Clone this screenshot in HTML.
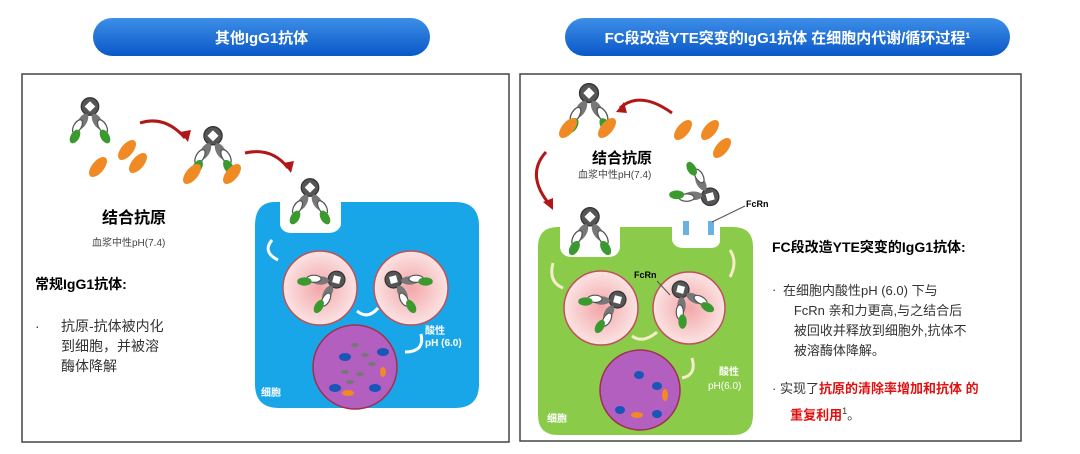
<!DOCTYPE html>
<html><head><meta charset="utf-8"><style>
body{margin:0;width:1080px;height:454px;background:#fff;overflow:hidden;font-family:"Liberation Sans","Noto Sans CJK SC",sans-serif;}
.t{position:absolute;}
</style></head><body>
<svg width="1080" height="454" style="position:absolute;left:0;top:0">
<defs>
<linearGradient id="pill" x1="0" y1="0" x2="0" y2="1"><stop offset="0" stop-color="#3d8ee8"/><stop offset="1" stop-color="#0a58c8"/></linearGradient>
<radialGradient id="pink"><stop offset="0" stop-color="#f3a6a8"/><stop offset="1" stop-color="#fbe3e3"/></radialGradient>
<g id="ab">
<circle cx="0" cy="-14" r="7" fill="#555" stroke="#333"/>
<rect x="-3" y="-17" width="6" height="6" fill="#fff" transform="rotate(45 0 -14)"/>
<ellipse cx="-6" cy="-2" rx="3.5" ry="7" fill="#777" transform="rotate(30 -6 -2)"/>
<ellipse cx="6" cy="-2" rx="3.5" ry="7" fill="#777" transform="rotate(-30 6 -2)"/>
<ellipse cx="-10" cy="2" rx="3" ry="6" fill="#fff" stroke="#555" transform="rotate(30 -10 2)"/>
<ellipse cx="10" cy="2" rx="3" ry="6" fill="#fff" stroke="#555" transform="rotate(-30 10 2)"/>
<ellipse cx="-12" cy="10" rx="3.5" ry="6" fill="#3a9a30" transform="rotate(30 -12 10)"/>
<ellipse cx="12" cy="10" rx="3.5" ry="6" fill="#3a9a30" transform="rotate(-30 12 10)"/>
</g>
<g id="ag"><ellipse cx="0" cy="0" rx="6" ry="12" fill="#f08a24" transform="rotate(40)"/></g>
</defs>
<rect x="93" y="18" width="337" height="38" rx="19" fill="url(#pill)"/>
<rect x="565" y="18" width="445" height="38" rx="19" fill="url(#pill)"/>
<rect x="22" y="74" width="487" height="368" fill="none" stroke="#444" stroke-width="1.5"/>
<rect x="520" y="74" width="501" height="367" fill="none" stroke="#444" stroke-width="1.5"/>
<!-- left cell -->
<path d="M275 202 L280 202 L280 225 Q282 233 292 233 L328 233 Q338 233 341 225 L341 202 L455 202 Q479 202 479 226 L479 384 Q479 408 455 408 L279 408 Q255 408 255 384 L255 226 Q255 202 275 202Z" fill="#19a6e8"/>
<circle cx="320" cy="288" r="37" fill="url(#pink)" stroke="#c0505a" stroke-width="1.5"/>
<circle cx="411" cy="288" r="37" fill="url(#pink)" stroke="#c0505a" stroke-width="1.5"/>
<circle cx="355" cy="367" r="42" fill="#b35fc0" stroke="#a03050" stroke-width="1.5"/>
<g fill="#1a55b8"><ellipse cx="345" cy="357" rx="6" ry="4"/><ellipse cx="383" cy="352" rx="6" ry="4"/><ellipse cx="335" cy="388" rx="6" ry="4"/><ellipse cx="375" cy="388" rx="6" ry="4"/></g>
<g fill="#777"><ellipse cx="355" cy="345" rx="4" ry="2"/><ellipse cx="365" cy="355" rx="4" ry="2"/><ellipse cx="345" cy="372" rx="4" ry="2"/><ellipse cx="360" cy="374" rx="4" ry="2"/><ellipse cx="372" cy="364" rx="4" ry="2"/><ellipse cx="350" cy="382" rx="4" ry="2"/></g>
<g fill="#f08a24"><ellipse cx="348" cy="393" rx="6" ry="3"/><ellipse cx="383" cy="372" rx="3" ry="5"/></g>
<use href="#ab" transform="translate(310,205) scale(1.25)"/>
<use href="#ab" transform="translate(322,288) rotate(60) scale(1.2)"/>
<use href="#ab" transform="translate(408,288) rotate(-60) scale(1.2)"/>
<use href="#ab" transform="translate(90,124) scale(1.25)"/>
<use href="#ab" transform="translate(213,154) scale(1.3)"/>
<use href="#ag" x="98" y="167"/><use href="#ag" x="127" y="150"/><use href="#ag" x="138" y="163"/>
<use href="#ag" x="192" y="174"/><use href="#ag" x="232" y="174"/>
<path d="M140 123 Q165 115 185 138" stroke="#b01818" stroke-width="3" fill="none"/><path d="M180 132 L188 142 L191 130Z" fill="#b01818"/>
<path d="M245 153 Q272 147 288 168" stroke="#b01818" stroke-width="3" fill="none"/><path d="M283 163 L291 173 L294 161Z" fill="#b01818"/>
<path d="M272 240 Q262 252 278 260" stroke="#fff" stroke-width="3" fill="none"/>
<path d="M357 311 Q368 320 378 308" stroke="#fff" stroke-width="3" fill="none"/>
<path d="M421 334 Q425 352 405 352" stroke="#fff" stroke-width="3" fill="none"/>
<!-- right cell -->
<path d="M560 227 L560 248 Q562 257 572 257 L608 257 Q618 257 620 248 L620 227 L672 227 L672 240 Q674 248 684 248 L710 248 Q720 248 720 240 L720 227 L733 227 Q753 227 753 247 L753 415 Q753 435 733 435 L558 435 Q538 435 538 415 L538 247 Q538 227 558 227Z" fill="#8acb4a"/>
<circle cx="601" cy="308" r="37" fill="url(#pink)" stroke="#c0505a" stroke-width="1.5"/>
<circle cx="689" cy="308" r="36" fill="url(#pink)" stroke="#c0505a" stroke-width="1.5"/>
<circle cx="640" cy="390" r="40" fill="#b35fc0" stroke="#a03050" stroke-width="1.5"/>
<g fill="#1a55b8"><ellipse cx="639" cy="375" rx="5" ry="4"/><ellipse cx="620" cy="410" rx="5" ry="4"/><ellipse cx="657" cy="386" rx="5" ry="4"/><ellipse cx="657" cy="414" rx="5" ry="4"/></g>
<g fill="#f08a24"><ellipse cx="665" cy="395" rx="3" ry="6"/><ellipse cx="637" cy="415" rx="6" ry="3"/></g>
<use href="#ab" transform="translate(589,112) scale(1.35)"/>
<use href="#ab" transform="translate(590,235) scale(1.3)"/>
<use href="#ab" transform="translate(695,188) rotate(120) scale(1.25)"/>
<use href="#ab" transform="translate(603,308) rotate(60) scale(1.2)"/>
<use href="#ab" transform="translate(689,304) rotate(-30) scale(1.2)"/>
<use href="#ag" x="568" y="128"/><use href="#ag" x="607" y="128"/><use href="#ag" x="683" y="130"/><use href="#ag" x="710" y="130"/><use href="#ag" x="722" y="148"/>
<rect x="683" y="221" width="6" height="14" fill="#6ab0e0"/><rect x="708" y="221" width="6" height="14" fill="#6ab0e0"/>
<line x1="712" y1="222" x2="745" y2="206" stroke="#555"/>
<line x1="657" y1="281" x2="670" y2="295" stroke="#555"/>
<path d="M672 113 Q640 90 620 108" stroke="#b01818" stroke-width="3" fill="none"/><path d="M624 102 L616 112 L627 113Z" fill="#b01818"/>
<path d="M546 152 Q525 175 550 205" stroke="#b01818" stroke-width="3" fill="none"/><path d="M543 202 L553 210 L553 198Z" fill="#b01818"/>
<path d="M553 263 Q548 282 563 288" stroke="#f5ecc8" stroke-width="3" fill="none"/>
<path d="M632 336 Q643 344 657 332" stroke="#f5ecc8" stroke-width="3" fill="none"/>
<path d="M692 358 Q697 375 682 378" stroke="#f5ecc8" stroke-width="3" fill="none"/>
<path d="M730 277 Q738 262 730 250" stroke="#f5ecc8" stroke-width="3" fill="none"/>
</svg>
<div class="t" style="left:93px;top:27px;width:337px;text-align:center;color:#fff;font-weight:bold;font-size:15px">其他IgG1抗体</div>
<div class="t" style="left:565px;top:27px;width:445px;text-align:center;color:#fff;font-weight:bold;font-size:15px">FC段改造YTE突变的IgG1抗体 在细胞内代谢/循环过程¹</div>
<div class="t" style="left:102px;top:204px;font-weight:bold;font-size:16px">结合抗原</div>
<div class="t" style="left:92px;top:234px;font-size:10px;color:#444">血浆中性pH(7.4)</div>
<div class="t" style="left:35px;top:274px;font-weight:bold;font-size:14px">常规IgG1抗体:</div>
<div class="t" style="left:35px;top:318px;font-size:14px;color:#333">·</div>
<div class="t" style="left:61px;top:316px;font-size:14px;color:#333;line-height:20px">抗原-抗体被内化<br>到细胞，并被溶<br>酶体降解</div>
<div class="t" style="left:425px;top:322px;font-size:10px;color:#fff;font-weight:bold">酸性</div>
<div class="t" style="left:425px;top:338px;font-size:10px;color:#fff;font-weight:bold">pH (6.0)</div>
<div class="t" style="left:261px;top:384px;font-size:10px;color:#fff;font-weight:bold">细胞</div>
<div class="t" style="left:592px;top:147px;font-weight:bold;font-size:15px">结合抗原</div>
<div class="t" style="left:578px;top:166px;font-size:10px;color:#444">血浆中性pH(7.4)</div>
<div class="t" style="left:746px;top:199px;font-size:9px;font-weight:bold">FcRn</div>
<div class="t" style="left:634px;top:270px;font-size:9px;font-weight:bold">FcRn</div>
<div class="t" style="left:719px;top:363px;font-size:10px;color:#fff;font-weight:bold">酸性</div>
<div class="t" style="left:708px;top:381px;font-size:10px;color:#fff">pH(6.0)</div>
<div class="t" style="left:547px;top:410px;font-size:10px;color:#fff;font-weight:bold">细胞</div>
<div class="t" style="left:772px;top:237px;font-weight:bold;font-size:14px">FC段改造YTE突变的IgG1抗体:</div>
<div class="t" style="left:772px;top:282px;font-size:13px;color:#333">·</div>
<div class="t" style="left:783px;top:281px;font-size:13px;color:#333;line-height:20px">在细胞内酸性pH (6.0) 下与<br>&nbsp;&nbsp;&nbsp;FcRn 亲和力更高,与之结合后<br>&nbsp;&nbsp;&nbsp;被回收并释放到细胞外,抗体不<br>&nbsp;&nbsp;&nbsp;被溶酶体降解。</div>
<div class="t" style="left:772px;top:378px;font-size:13px;color:#333;line-height:22px">· 实现了<b style="color:#e01010">抗原的清除率增加和抗体 的</b><br>&nbsp;&nbsp;&nbsp;&nbsp;&nbsp;<b style="color:#e01010">重复利用</b><sup style="font-size:9px">1</sup>。</div>
</body></html>
